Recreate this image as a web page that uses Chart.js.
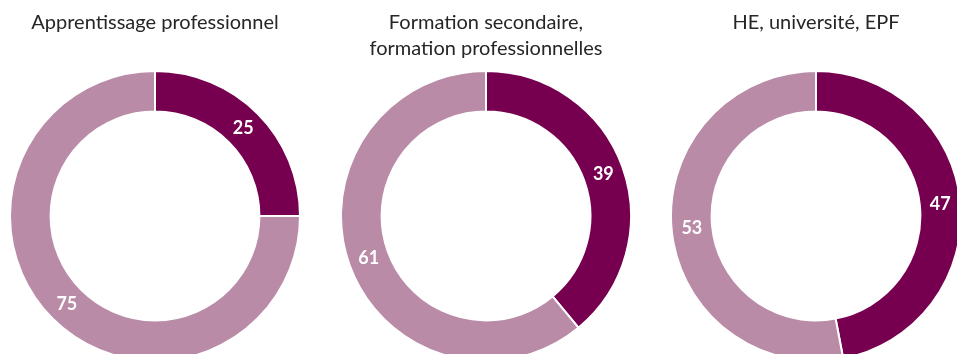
<!DOCTYPE html>
<html lang="fr">
<head>
<meta charset="utf-8">
<script src="https://cdn.jsdelivr.net/npm/chart.js@4/dist/chart.umd.min.js"></script>
<style>
  html, body {
    margin: 0;
    padding: 0;
    width: 957px;
    height: 354px;
    overflow: hidden;
    background: #fff;
  }
  .donut {
    position: absolute;
    top: 0;
    width: 292px;
    height: 362px;
  }
</style>
</head>
<body>
<div class="donut" style="left: 9px;"><canvas id="chart-apprentissage"></canvas></div>
<div class="donut" style="left: 340px;"><canvas id="chart-secondaire"></canvas></div>
<div class="donut" style="left: 670px;"><canvas id="chart-haute-ecole"></canvas></div>

<script>
const titles = [
  ["Apprentissage professionnel"],
  ["Formation secondaire,", "formation professionnelles"],
  ["HE, université, EPF"]
];
const segmentLabels = ["Oui", "Non"];
const apprentissageValues = [25, 75];
const secondaireValues = [39, 61];
const hauteEcoleValues = [47, 53];

const DARK = "#76004f";
const LIGHT = "#b98ba6";

// writes each slice's value in the middle of its ring section
const sliceLabels = {
  id: "sliceLabels",
  afterDatasetsDraw(chart) {
    const ctx = chart.ctx;
    const meta = chart.getDatasetMeta(0);
    const values = chart.data.datasets[0].data;
    ctx.save();
    ctx.font = "bold 18px Lato, 'Open Sans', sans-serif";
    ctx.fillStyle = "#ffffff";
    ctx.textAlign = "center";
    ctx.textBaseline = "middle";
    meta.data.forEach((arc, i) => {
      const pos = arc.tooltipPosition();
      ctx.fillText(String(values[i]), pos.x, pos.y);
    });
    ctx.restore();
  }
};

function makeDonut(id, title, values) {
  const ctx = document.getElementById(id).getContext("2d");
  const lines = title.length;

  return new Chart(ctx, {
    type: "doughnut",
    data: {
      labels: segmentLabels,
      datasets: [
        {
          data: values,
          backgroundColor: [DARK, LIGHT],
          borderColor: "#ffffff",
          borderWidth: 2,
          hoverOffset: 0
        }
      ]
    },
    options: {
      responsive: true,
      maintainAspectRatio: false,
      animation: false,
      cutout: "72%",
      layout: { padding: 0 },
      plugins: {
        legend: { display: false },
        tooltip: { enabled: false },
        title: {
          display: true,
          text: title,
          color: "#262626",
          font: {
            family: "Lato, 'Open Sans', sans-serif",
            size: 20,
            weight: "normal",
            lineHeight: "26px"
          },
          padding: { top: 10, bottom: 70 - 10 - 26 * lines }
        }
      }
    },
    plugins: [sliceLabels]
  });
}

makeDonut("chart-apprentissage", titles[0], apprentissageValues);
makeDonut("chart-secondaire", titles[1], secondaireValues);
makeDonut("chart-haute-ecole", titles[2], hauteEcoleValues);
</script>
</body>
</html>
